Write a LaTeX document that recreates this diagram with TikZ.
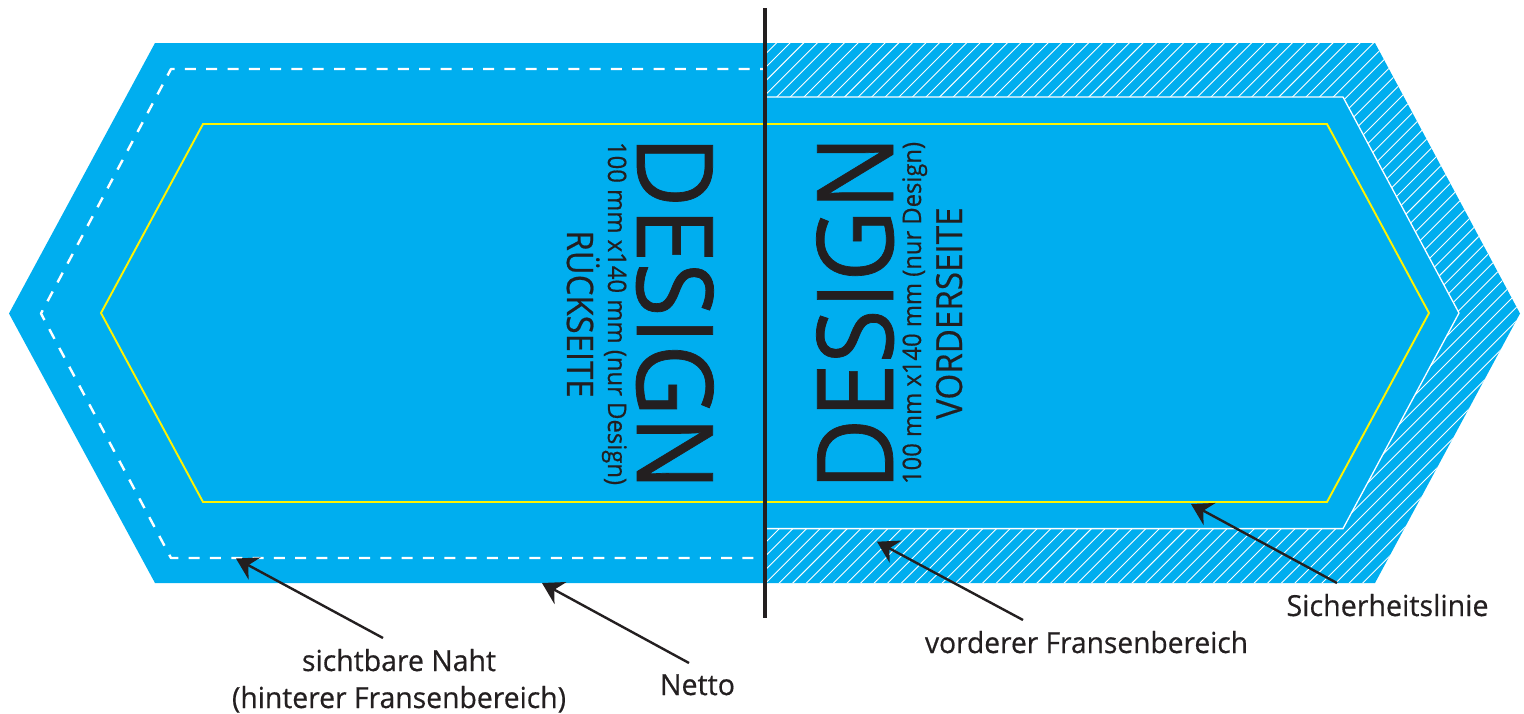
\documentclass[tikz,border=0pt]{standalone}
\usepackage{fontspec}
\usepackage{graphicx}
\setmainfont{Open Sans}
\newfontface\labelface{Open Sans}[FakeBold=0.5]
\newfontface\bigface{Open Sans}[FakeBold=0.7]
\usetikzlibrary{arrows.meta}
\definecolor{cyanfill}{HTML}{00AEEF}
\definecolor{safeyellow}{HTML}{FFF200}
\definecolor{inkblack}{HTML}{231F20}
\newcommand{\fittext}[3]{\resizebox{#1}{#2}{\raisebox{0pt}[1em][0pt]{#3}}}
\tikzset{
  txt/.style={inner sep=0pt,outer sep=0pt,text=inkblack,anchor=base west},
  upward/.style={txt,rotate=90},
  downward/.style={txt,rotate=-90},
  pointer/.style={draw=inkblack,line width=2.4pt,-{Stealth[length=21pt,width=25pt,inset=7pt]}},
  hatchline/.style={draw=white,line width=0.9pt},
  seam/.style={draw=white,line width=2.4pt,line join=round,dash pattern=on 11pt off 10.3pt,dash phase=6pt},
  safety/.style={draw=safeyellow,line width=1.9pt,line join=miter},
  fringe/.style={draw=white,line width=1.3pt,line join=miter}
}
\begin{document}
\begin{tikzpicture}[x=1pt,y=-1pt]
\useasboundingbox (0,0) rectangle (1524,713);
% outer shape
\fill[cyanfill] (155,43) -- (1375,43) -- (1520,313.5) -- (1375,583) -- (155,583) -- (9,313.5) -- cycle;
% hatching of the front fringe
\begin{scope}
\clip (765,43) -- (1375,43) -- (1520,313.5) -- (1375,583) -- (765,583) -- cycle;
\foreach \k in {-37,...,60}{
  \pgfmathsetmacro{\c}{1308+13.57*\k}
  \draw[hatchline] ({\c-590},590) -- ({\c-36},36);
}
\end{scope}
\fill[cyanfill] (765,97) -- (1343,97) -- (1459,313) -- (1343,528.6) -- (765,528.6) -- cycle;
\draw[fringe] (765,97) -- (1343,97) -- (1459,313) -- (1343,528.6) -- (765,528.6);
% seam and safety line
\draw[seam] (765,69) -- (171,69) -- (41,313.5) -- (171,558) -- (765,558);
\draw[safety] (203,124) -- (1327,124) -- (1429,313) -- (1327,502) -- (203,502) -- (101,313) -- cycle;
% divider
\coordinate (divtop) at (765,8);
\coordinate (divbot) at (765,618);
\draw[inkblack,line width=4.3pt] (divtop) -- (divbot);
% rotated texts
\node[downward] (backdesign) at (637,135.5) {\fittext{355pt}{106pt}{\bigface DESIGN}};
\node[downward] (backsize) at (608,142) {\fittext{343pt}{25.5pt}{\labelface 100 mm x140 mm (nur Design)}};
\node[downward] (backside) at (567,230.5) {\fittext{167pt}{36.5pt}{\labelface RÜCKSEITE}};
\node[upward] (frontdesign) at (893,490.5) {\fittext{355pt}{106pt}{\bigface DESIGN}};
\node[upward] (frontsize) at (921,484) {\fittext{342pt}{25.5pt}{\labelface 100 mm x140 mm (nur Design)}};
\node[upward] (frontside) at (962,419) {\fittext{211.5pt}{36pt}{\labelface VORDERSEITE}};
% labels
\node[txt] (sicher) at (1286.5,616) {\fittext{202pt}{29pt}{\labelface Sicherheitslinie}};
\node[txt] (vorder) at (925,653) {\fittext{323pt}{29pt}{\labelface vorderer Fransenbereich}};
\node[txt] (netto) at (660,695) {\fittext{75pt}{29pt}{\labelface Netto}};
\node[txt] (naht) at (302,671) {\fittext{194pt}{29pt}{\labelface sichtbare Naht}};
\node[txt] (hinter) at (232,708) {\fittext{334pt}{29pt}{\labelface (hinterer Fransenbereich)}};
% arrow targets
\coordinate (tipsicher) at (1191,504);
\coordinate (tipvorder) at (877,541.7);
\coordinate (tipnetto) at (542,583);
\coordinate (tipnaht) at (236,558.5);
% arrows
\draw[pointer] ([shift={(50.5pt,33pt)}]sicher.base west) -- (tipsicher);
\draw[pointer] ([shift={(98pt,33pt)}]vorder.base west) -- (tipvorder);
\draw[pointer] ([shift={(29pt,32pt)}]netto.base west) -- (tipnetto);
\draw[pointer] ([shift={(81pt,33pt)}]naht.base west) -- (tipnaht);
\end{tikzpicture}
\end{document}
